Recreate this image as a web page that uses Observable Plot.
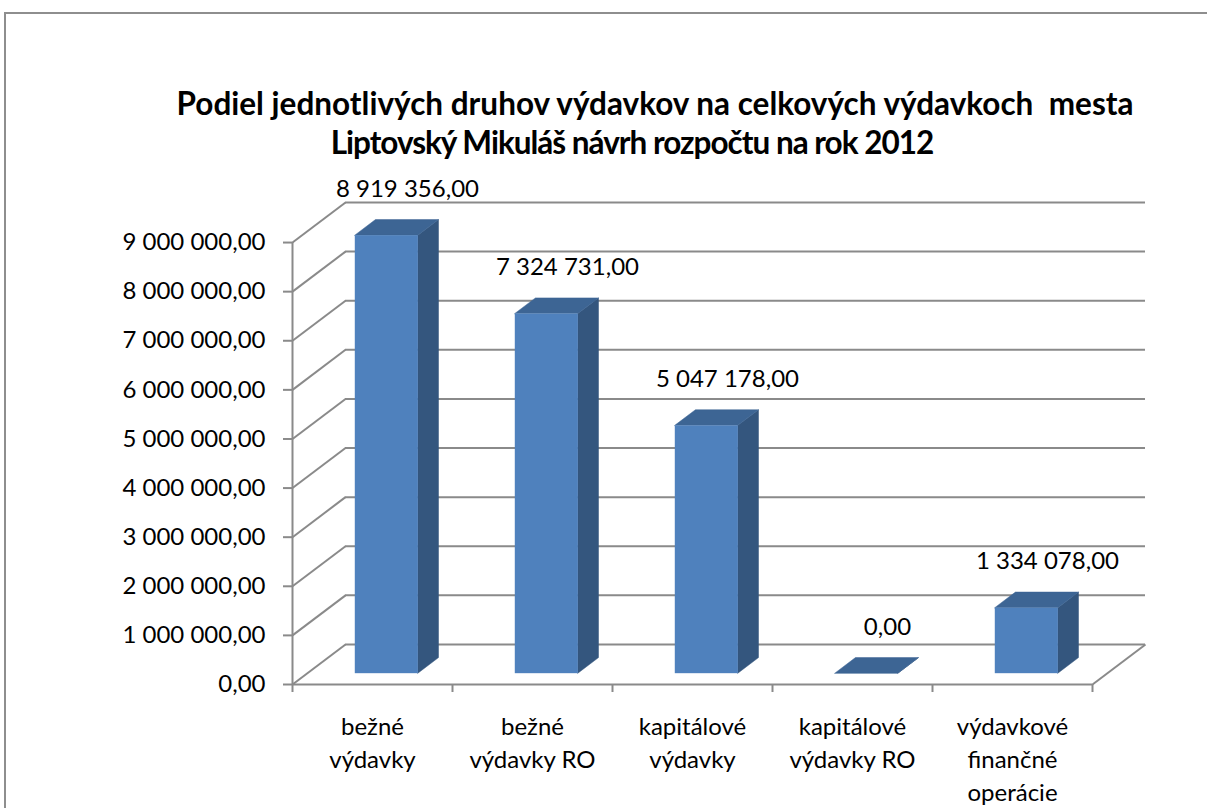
<!DOCTYPE html>
<html>
<head>
<meta charset="utf-8">
<script src="https://cdn.jsdelivr.net/npm/d3@7"></script>
<script src="https://cdn.jsdelivr.net/npm/@observablehq/plot@0.6"></script>
<style>
html, body { margin: 0; padding: 0; background: #fff; }
#page { position: relative; width: 1207px; height: 808px; overflow: hidden; font-family: Lato, "Open Sans", sans-serif; }
#frame { position: absolute; left: 4px; top: 12px; width: 1400px; height: 1000px; border-top: 2px solid #8e8e8e; border-left: 2px solid #8e8e8e; box-sizing: border-box; pointer-events: none; }
#title { position: relative; box-sizing: border-box; height: 170px; padding-top: 84px; margin-left: 5px; width: 1300px; text-align: center; font-weight: bold; font-size: 31.5px; line-height: 39px; white-space: pre; color: #000; }
#title .l2 { padding-right: 46px; letter-spacing: -1px; }
#chart { position: relative; }
#chart svg { overflow: visible; }
</style>
</head>
<body>
<div id="page">
  <div id="frame"></div>
  <div id="title"></div>
  <div id="chart"></div>
</div>
<script>
// ---- data ----
const titleLines = ["Podiel jednotlivých druhov výdavkov na celkových výdavkoch  mesta", "Liptovský Mikuláš návrh rozpočtu na rok 2012"];
const categories = ["bežné\nvýdavky", "bežné\nvýdavky RO", "kapitálové\nvýdavky", "kapitálové\nvýdavky RO", "výdavkové\nfinančné\noperácie"];
const values = [8919356, 7324731, 5047178, 0, 1334078];
const yTicks = [0, 1000000, 2000000, 3000000, 4000000, 5000000, 6000000, 7000000, 8000000, 9000000];

// ---- formatting ----
const fmt = d3.formatLocale({decimal: ",", thousands: " ", grouping: [3], currency: ["", ""]}).format(",.2f");

const titleEl = document.getElementById("title");
titleLines.forEach((t, k) => {
  const div = document.createElement("div");
  div.className = "l" + (k + 1);
  div.textContent = t;
  titleEl.appendChild(div);
});

// ---- pseudo-3D geometry (in scale units) ----
const DX = 53 / 160;       // depth offset along x, in category units
const DY = 0.8155e6;       // depth offset along y, in value units
const HW = 0.197;          // half bar width, in category units
const Z0 = 0.27, Z1 = 0.66; // front / back face depth fractions
const yMax = yTicks[yTicks.length - 1];
const nCat = categories.length;

const bars = values.map((v, i) => ({i, v, c: i + 0.5, label: categories[i]}));
const sidePts = bars.flatMap(d => [
  {i: d.i, x: d.c + HW + Z0 * DX, y1: Z0 * DY, y2: d.v + Z0 * DY},
  {i: d.i, x: d.c + HW + Z1 * DX, y1: Z1 * DY, y2: d.v + Z1 * DY}
]);
const topPts = bars.flatMap(d => [
  {i: d.i, y: d.v + Z0 * DY, x1: d.c - HW + Z0 * DX, x2: d.c + HW + Z0 * DX},
  {i: d.i, y: d.v + Z1 * DY, x1: d.c - HW + Z1 * DX, x2: d.c + HW + Z1 * DX}
]);
const catBounds = d3.range(nCat + 1);

const gridColor = "#8a8a8a";
const frontColor = "#4f81bd", topColor = "#3d6594", sideColor = "#34567e";

const chart = Plot.plot({
  width: 1207,
  height: 638,
  marginLeft: 292,
  marginRight: 62,
  marginTop: 32,
  marginBottom: 124,
  x: {type: "linear", domain: [0, nCat + DX], axis: null},
  y: {type: "linear", domain: [0, yMax + DY], axis: null},
  style: {fontFamily: "Lato, 'Open Sans', sans-serif", fontSize: "24px", color: "#000", background: "transparent"},
  marks: [
    // back wall gridlines
    Plot.ruleY(yTicks, {y: d => d + DY, x1: () => DX, x2: () => nCat + DX, stroke: gridColor, strokeWidth: 2}),
    // side wall diagonals
    Plot.link(yTicks, {x1: () => 0, y1: d => d, x2: () => DX, y2: d => d + DY, stroke: gridColor, strokeWidth: 2}),
    // floor right edge
    Plot.link([0], {x1: () => nCat, y1: () => 0, x2: () => nCat + DX, y2: () => DY, stroke: gridColor, strokeWidth: 2}),
    // floor front edge
    Plot.ruleY([0], {x1: () => 0, x2: () => nCat, stroke: gridColor, strokeWidth: 2}),
    // value axis line
    Plot.ruleX([0], {y1: () => 0, y2: () => yMax, stroke: gridColor, strokeWidth: 2}),
    Plot.axisY({ticks: yTicks, tickFormat: fmt, tickSize: 9, tickPadding: 18, stroke: gridColor, strokeWidth: 2, fill: "#000", fontSize: 24}),
    Plot.axisX({ticks: catBounds, tickFormat: () => "", tickSize: 8, stroke: gridColor, strokeWidth: 2}),
    // bars
    Plot.areaY(sidePts, {x: "x", y1: "y1", y2: "y2", z: "i", fill: sideColor, stroke: sideColor, strokeWidth: 0.5}),
    Plot.areaX(topPts, {y: "y", x1: "x1", x2: "x2", z: "i", fill: topColor, stroke: topColor, strokeWidth: 0.5}),
    Plot.rect(bars, {x1: d => d.c - HW + Z0 * DX, x2: d => d.c + HW + Z0 * DX, y1: () => Z0 * DY, y2: d => d.v + Z0 * DY, fill: frontColor}),
    // data labels
    Plot.text(bars, {x: d => d.c + Z1 * DX, y: d => d.v + Z1 * DY, text: d => fmt(d.v), dy: -31, fontSize: 24, fill: "#000"}),
    // category labels
    Plot.text(bars, {x: "c", y: () => 0, text: "label", dy: 27, lineAnchor: "top", lineHeight: 1.375, fontSize: 24, fill: "#000"})
  ]
});
document.getElementById("chart").appendChild(chart);
</script>
</body>
</html>
